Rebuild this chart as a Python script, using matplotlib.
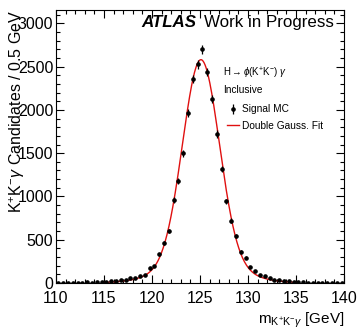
import numpy as np
import matplotlib
matplotlib.use("Agg")
import matplotlib.pyplot as plt
from matplotlib.ticker import MultipleLocator

plt.rcParams["font.family"] = ["Liberation Sans", "DejaVu Sans"]
plt.rcParams["mathtext.fontset"] = "custom"
plt.rcParams["mathtext.rm"] = "Liberation Sans"
plt.rcParams["mathtext.it"] = "Liberation Sans:italic"

# Signal MC histogram, 0.5 GeV bins from 110 to 140
bin_centers = np.arange(110.25, 140.0, 0.5)
counts = [3, 4, 2, 5, 3, 4, 6, 5, 8, 10,
          15, 20, 26, 31, 36, 54, 63, 78, 97, 168,
          199, 333, 463, 605, 960, 1175, 1499, 1962, 2358, 2528,
          2702, 2439, 2124, 1722, 1318, 942, 720, 540, 362, 293,
          188, 140, 98, 81, 54, 35, 29, 23, 18, 14,
          8, 6, 5, 4, 3, 4, 2, 3, 2, 2]

# double Gaussian fit parameters
fit_mean = 125.1
fit_amp1, fit_sig1 = 2360.0, 1.9
fit_amp2, fit_sig2 = 220.0, 3.8

counts = np.array(counts, dtype=float)
errs = np.sqrt(counts)

xs = np.linspace(115, 135, 400)
fit = (fit_amp1 * np.exp(-0.5 * ((xs - fit_mean) / fit_sig1) ** 2)
       + fit_amp2 * np.exp(-0.5 * ((xs - fit_mean) / fit_sig2) ** 2))

fig = plt.figure(figsize=(3.58, 3.30), dpi=100)
ax = fig.add_axes([56 / 358, 1 - 283 / 330, (344 - 56) / 358, (283 - 9.5) / 330])

line, = ax.plot(xs, fit, color="#e01010", lw=1.0, zorder=2)
eb = ax.errorbar(bin_centers, counts, yerr=errs, fmt="o", color="black",
                 ms=2.3, elinewidth=0.9, capsize=0, zorder=3)

ax.set_xlim(110, 140)
ax.set_ylim(0, 3160)
ax.xaxis.set_major_locator(MultipleLocator(5))
ax.xaxis.set_minor_locator(MultipleLocator(1))
ax.yaxis.set_major_locator(MultipleLocator(500))
ax.yaxis.set_minor_locator(MultipleLocator(100))
ax.tick_params(which="both", direction="in", top=True, right=True,
               labelsize=11.5, width=0.8)
ax.tick_params(axis="x", pad=6)
ax.tick_params(axis="y", pad=2)
ax.tick_params(which="major", length=5.5)
ax.tick_params(which="minor", length=3)
for sp in ax.spines.values():
    sp.set_linewidth(0.8)

ax.set_xlabel(r"m$_{\mathrm{K^{+}K^{-}}\gamma}$ [GeV]", fontsize=11, loc="right")
ax.set_ylabel(r"K$^{+}$K$^{-}$$\gamma$ Candidates / 0.5 GeV", fontsize=11.5, loc="top")
ax.yaxis.set_label_coords(-0.10, 1.0)
ax.xaxis.set_label_coords(1.0, -0.1)

ax.text(0.298, 0.936, "ATLAS", transform=ax.transAxes, fontsize=12.2,
        fontweight="bold", fontstyle="italic", va="baseline")
ax.text(0.514, 0.936, "Work in Progress", transform=ax.transAxes,
        fontsize=12.2, va="baseline")
ax.text(0.581, 0.768, r"H$\rightarrow$$\phi$(K$^{+}$K$^{-}$) $\gamma$",
        transform=ax.transAxes, fontsize=7, va="center")
ax.text(0.581, 0.705, "Inclusive", transform=ax.transAxes, fontsize=7.3, va="center")

ax.legend([eb, line], ["Signal MC", "Double Gauss. Fit"], loc="upper left",
          bbox_to_anchor=(0.593, 0.653), frameon=False, fontsize=7.3,
          handlelength=1.2, handletextpad=0.35, labelspacing=0.65,
          borderpad=0, borderaxespad=0)

fig.savefig("out.png", dpi=100)
